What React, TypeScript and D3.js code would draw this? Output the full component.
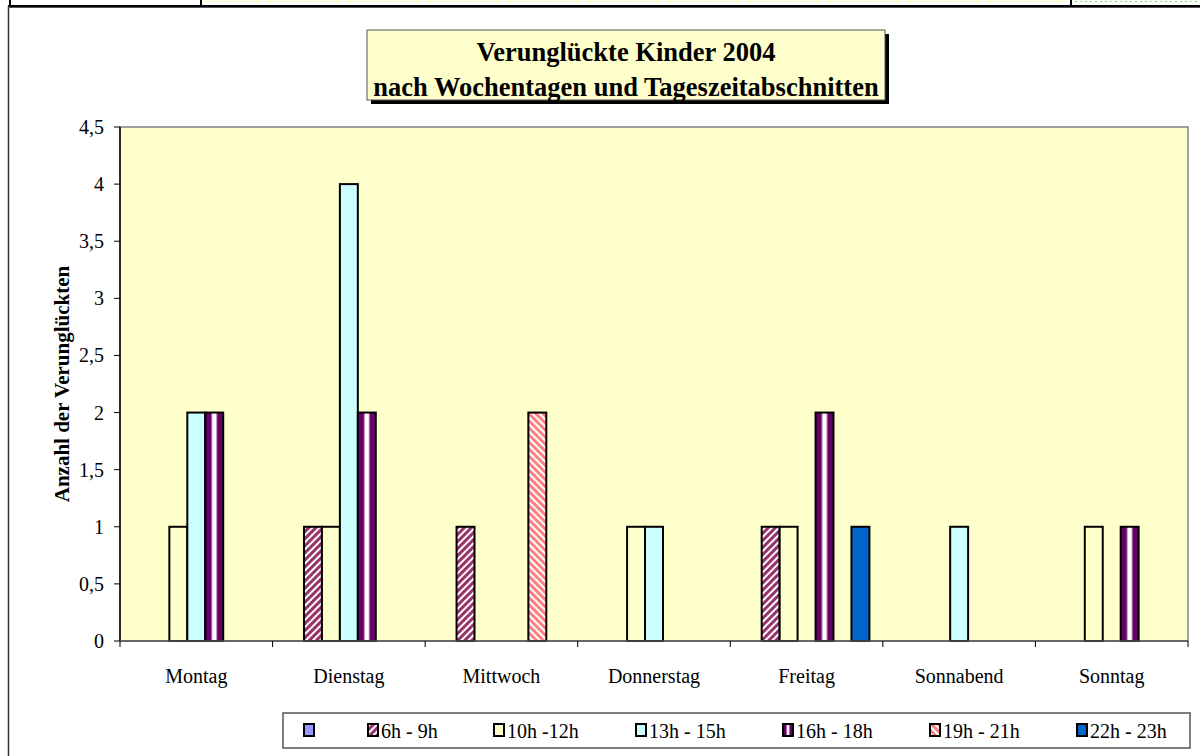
import * as d3 from 'd3';

const days = ['Montag', 'Dienstag', 'Mittwoch', 'Donnerstag', 'Freitag', 'Sonnabend', 'Sonntag'];
const seriesNames = ['', '6h - 9h', '10h -12h', '13h - 15h', '16h - 18h', '19h - 21h', '22h - 23h'];
const blank = [0, 0, 0, 0, 0, 0, 0];
const h6to9 = [0, 1, 1, 0, 1, 0, 0];
const h10to12 = [1, 1, 0, 1, 1, 0, 1];
const h13to15 = [2, 4, 0, 1, 0, 1, 0];
const h16to18 = [2, 2, 0, 0, 2, 0, 1];
const h19to21 = [0, 0, 2, 0, 0, 0, 0];
const h22to23 = [0, 0, 0, 0, 1, 0, 0];
const yTicks = [0, 0.5, 1, 1.5, 2, 2.5, 3, 3.5, 4, 4.5];

const allSeries = [blank, h6to9, h10to12, h13to15, h16to18, h19to21, h22to23];
const fills = ['#9999FF', 'url(#diagPurple)', '#FFFFCC', '#CCFFFF', 'url(#vertPurple)', 'url(#diagSalmon)', '#0066CC'];

const W = 1200;
const H = 756;
const plot = { left: 120, right: 1188, top: 127, bottom: 641 };
const serif = '"Liberation Serif", "Times New Roman", serif';

export default function App() {
  const x0 = d3.scaleBand<string>().domain(days).range([plot.left, plot.right]).padding(0);
  const x1 = d3
    .scaleBand<string>()
    .domain(seriesNames.map((_, i) => String(i)))
    .range([0, x0.bandwidth()])
    .paddingInner(0)
    .paddingOuter(0.75);
  const y = d3.scaleLinear().domain([0, 4.5]).range([plot.bottom, plot.top]);
  const fmt = (v: number) => String(v).replace('.', ',');

  // legend layout
  const legendX = [304, 368, 494, 636, 783, 930, 1077];

  return (
    <svg width={W} height={H} style={{ position: 'absolute', left: 0, top: 0 }} fontFamily={serif}>
      <defs>
        <pattern id="diagPurple" patternUnits="userSpaceOnUse" width="5" height="5" patternTransform="rotate(45)">
          <rect width="5" height="5" fill="#ffffff" />
          <rect width="3" height="5" fill="#993366" />
        </pattern>
        <pattern id="diagSalmon" patternUnits="userSpaceOnUse" width="5" height="5" patternTransform="rotate(-45)">
          <rect width="5" height="5" fill="#ffffff" />
          <rect width="3" height="5" fill="#FF8080" />
        </pattern>
        <linearGradient id="vertPurple" x1="0" x2="1" y1="0" y2="0">
          <stop offset="0" stopColor="#660066" />
          <stop offset="0.3" stopColor="#660066" />
          <stop offset="0.42" stopColor="#ffffff" />
          <stop offset="0.58" stopColor="#ffffff" />
          <stop offset="0.7" stopColor="#660066" />
          <stop offset="1" stopColor="#660066" />
        </linearGradient>
      </defs>

      <rect width={W} height={H} fill="#ffffff" />

      {/* table strip at the top */}
      <line x1={205} x2={1068} y1={1.5} y2={1.5} stroke="#ffff66" strokeDasharray="2,3" />
      <line x1={1075} x2={1200} y1={1.5} y2={1.5} stroke="#66dd66" strokeDasharray="2,3" />
      <line x1={10} x2={10} y1={0} y2={6} stroke="#000" strokeWidth={2} />
      <line x1={201} x2={201} y1={0} y2={6} stroke="#000" strokeWidth={2} />
      <line x1={1071} x2={1071} y1={0} y2={6} stroke="#000" strokeWidth={2} />
      <line x1={8} x2={1200} y1={6} y2={6} stroke="#000" strokeWidth={2} />

      {/* chart frame */}
      <line x1={8.5} x2={8.5} y1={6} y2={H} stroke="#333" strokeWidth={1.5} />
      <line x1={8} x2={1200} y1={7.5} y2={7.5} stroke="#555" strokeWidth={1} />

      {/* plot area */}
      <rect
        x={plot.left}
        y={plot.top}
        width={plot.right - plot.left}
        height={plot.bottom - plot.top}
        fill="#FFFFCC"
        stroke="#808080"
        strokeWidth={1.5}
      />

      {/* bars */}
      {allSeries.map((vals, si) =>
        vals.map((v, di) =>
          v > 0 ? (
            <rect
              key={`${si}-${di}`}
              x={(x0(days[di]) ?? 0) + (x1(String(si)) ?? 0)}
              y={y(v)}
              width={x1.bandwidth()}
              height={y(0) - y(v)}
              fill={fills[si]}
              stroke="#000"
              strokeWidth={2}
            />
          ) : null
        )
      )}

      {/* y axis */}
      <line x1={plot.left} x2={plot.left} y1={plot.top} y2={plot.bottom} stroke="#000" strokeWidth={1.5} />
      {yTicks.map((t) => (
        <g key={t}>
          <line x1={plot.left - 6} x2={plot.left} y1={y(t)} y2={y(t)} stroke="#000" strokeWidth={1} />
          <text x={104} y={y(t)} dy="0.35em" textAnchor="end" fontSize={20}>
            {fmt(t)}
          </text>
        </g>
      ))}
      <text
        transform={`translate(62,${(plot.top + plot.bottom) / 2}) rotate(-90)`}
        textAnchor="middle"
        dy="0.35em"
        fontSize={21}
        fontWeight="bold"
      >
        Anzahl der Verunglückten
      </text>

      {/* x axis */}
      <line x1={plot.left} x2={plot.right} y1={plot.bottom} y2={plot.bottom} stroke="#555" strokeWidth={1.5} />
      {days.map((d, i) => (
        <g key={d}>
          <line
            x1={(x0(d) ?? 0)}
            x2={(x0(d) ?? 0)}
            y1={plot.bottom}
            y2={plot.bottom + 6}
            stroke="#000"
            strokeWidth={1}
          />
          {i === days.length - 1 ? (
            <line x1={plot.right} x2={plot.right} y1={plot.bottom} y2={plot.bottom + 6} stroke="#000" />
          ) : null}
          <text x={(x0(d) ?? 0) + x0.bandwidth() / 2} y={676} textAnchor="middle" dy="0.35em" fontSize={20}>
            {d}
          </text>
        </g>
      ))}

      {/* title box */}
      <rect x={371} y={34} width={518} height={70} fill="#000" />
      <rect x={367} y={30} width={518} height={70} fill="#FFFFCC" stroke="#555" strokeWidth={1} />
      <text x={626} y={52} textAnchor="middle" dy="0.35em" fontSize={26.5} fontWeight="bold">
        Verunglückte Kinder 2004
      </text>
      <text x={626} y={87} textAnchor="middle" dy="0.35em" fontSize={26.5} fontWeight="bold">
        nach Wochentagen und Tageszeitabschnitten
      </text>

      {/* legend */}
      <rect x={283} y={713} width={907} height={35} fill="#ffffff" stroke="#555" strokeWidth={1.5} />
      {seriesNames.map((name, i) => (
        <g key={i}>
          <rect x={legendX[i]} y={724} width={10} height={12} fill={fills[i]} stroke="#000" strokeWidth={2} />
          <text x={legendX[i] + 13} y={731} dy="0.35em" fontSize={20}>
            {name}
          </text>
        </g>
      ))}
    </svg>
  );
}
